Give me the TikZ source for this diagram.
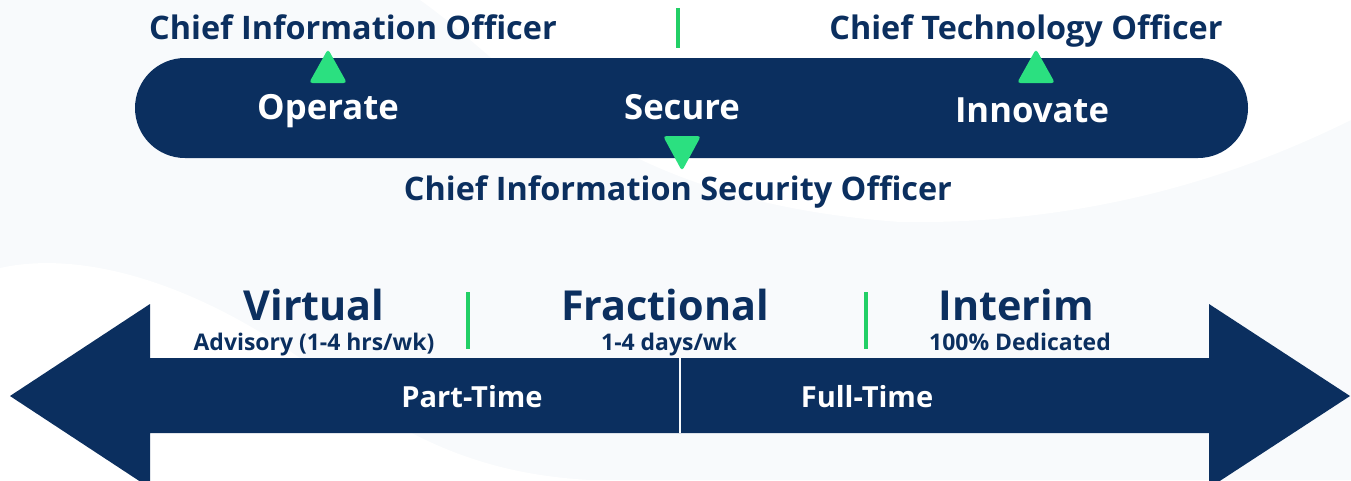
\documentclass[tikz,border=0pt]{standalone}
\usepackage{fontspec}
\setmainfont{Open Sans}
\usetikzlibrary{scopes}
\definecolor{navy}{HTML}{0B2F5F}
\definecolor{mint}{HTML}{2BE080}
\definecolor{leaf}{HTML}{22CF66}
\definecolor{paper}{HTML}{F8FAFC}
\begin{document}
\begin{tikzpicture}[x=0.75pt,y=-0.75pt,
    rolelabel/.style={font=\bfseries\fontsize{24.3}{28}\selectfont,text=navy},
    pilllabel/.style={font=\bfseries\fontsize{26}{30}\selectfont,text=white},
    modelabel/.style={font=\bfseries\fontsize{31}{36}\selectfont,text=navy},
    modenote/.style={font=\bfseries\fontsize{17.2}{20}\selectfont,text=navy},
    spanlabel/.style={font=\bfseries\fontsize{21.8}{25}\selectfont,text=white},
    tick/.style={draw=leaf,line width=3pt}]
  \fill[paper] (0,0) rectangle (1351,480);
  \useasboundingbox (0,0) rectangle (1351,480);
  % faint swooshes behind
  \fill[white] (420,0) .. controls (520,70) and (600,200) .. (900,222)
    .. controls (1100,225) and (1250,170) .. (1351,120) -- (1351,0) -- cycle;
  \fill[white] (0,268) .. controls (80,250) and (200,280) .. (330,380)
    .. controls (420,450) and (500,475) .. (590,480) -- (0,480) -- cycle;
  % top band
  \fill[navy,rounded corners=37.5pt] (135,58) rectangle (1248,158);
  \draw[tick] (678,8) -- (678,48);
  \fill[mint,rounded corners=2.5pt] (309,83) -- (328,49) -- (347,83) -- cycle;
  \fill[mint,rounded corners=2.5pt] (1017,83) -- (1036,49) -- (1055,83) -- cycle;
  \fill[mint,rounded corners=2.5pt] (663,136) -- (701,136) -- (682,171) -- cycle;
  { [every node/.style={anchor=base,inner sep=0pt}]
    \node[rolelabel] (cio) at (353,39) {Chief Information Officer};
    \node[rolelabel] (cto) at (1026,39) {Chief Technology Officer};
    \node[rolelabel] (ciso) at (678,200) {Chief Information Security Officer};
    \node[pilllabel] (operate) at (328,119) {Operate};
    \node[pilllabel] (secure) at (682,119) {Secure};
    \node[pilllabel] (innovate) at (1032,122) {Innovate};
  }
  % double arrow
  \fill[navy] (10,396) -- (150,304) -- (150,358) -- (1209,358) -- (1209,304)
    -- (1350,396) -- (1209,488) -- (1209,433) -- (150,433) -- (150,488) -- cycle;
  \draw[paper,line width=1.5pt] (680,358) -- (680,433);
  \draw[tick] (468,292) -- (468,349);
  \draw[tick] (866,292) -- (866,349);
  { [every node/.style={anchor=base,inner sep=0pt}]
    \node[modelabel] (virtual) at (314,320) {Virtual};
    \node[modelabel] (fractional) at (665,320) {Fractional};
    \node[modelabel] (interim) at (1016,320) {Interim};
    \node[modenote] (advisory) at (314,350) {Advisory (1-4 hrs/wk)};
    \node[modenote] (days) at (669,350) {1-4 days/wk};
    \node[modenote] (dedicated) at (1020,350) {100\% Dedicated};
    \node[spanlabel] (parttime) at (472,407) {Part-Time};
    \node[spanlabel] (fulltime) at (867,407) {Full-Time};
  }
\end{tikzpicture}
\end{document}
